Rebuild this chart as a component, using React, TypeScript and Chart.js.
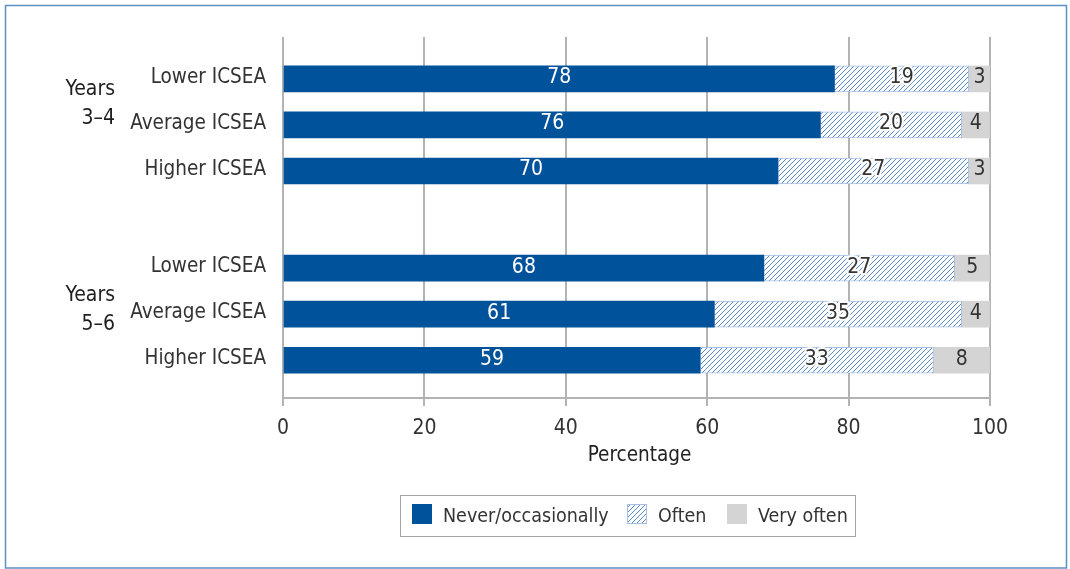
import React, { useEffect, useRef } from 'react';
import { Chart, registerables } from 'chart.js';

Chart.register(...registerables);

// ---------- data ----------
const groupLabels = [
  ['Years', '3–4'],
  ['Years', '5–6'],
];
const rowLabels = [
  'Lower ICSEA',
  'Average ICSEA',
  'Higher ICSEA',
  'Lower ICSEA',
  'Average ICSEA',
  'Higher ICSEA',
];
const seriesNames = ['Never/occasionally', 'Often', 'Very often'];
const neverOccasionally = [78, 76, 70, 68, 61, 59];
const often = [19, 20, 27, 27, 35, 33];
const veryOften = [3, 4, 3, 5, 4, 8];
const xTicks = [0, 20, 40, 60, 80, 100];
const xTitle = 'Percentage';

// ---------- style / layout ----------
const FONT = "'DejaVu Sans Condensed', 'DejaVu Sans', sans-serif";
const BLUE = '#00529b';
const GREY = '#d4d4d4';
const HATCH_LINE = '#5a89cc';
const HATCH_BORDER = '#a5c0e4';
const GRID = '#b3b3b3';
const TEXT = '#333333';
const FRAME = '#5a8fc8';
const W = 1070;
const H = 569;
const ROWS_PER_GROUP = 3;
const GROUP_STRIDE = 4.11;
const rowPos = (i: number) => (i % ROWS_PER_GROUP) + Math.floor(i / ROWS_PER_GROUP) * GROUP_STRIDE;
const GROUP_LABEL_POS = [0.48, 4.955];
const LEGEND_SQUARES_X = [412, 627, 727];

function makeHatch(ctx: CanvasRenderingContext2D): CanvasPattern {
  const s = 5;
  const c = document.createElement('canvas');
  c.width = s;
  c.height = s;
  const g = c.getContext('2d')!;
  g.fillStyle = '#ffffff';
  g.fillRect(0, 0, s, s);
  g.strokeStyle = HATCH_LINE;
  g.lineWidth = 1;
  g.beginPath();
  g.moveTo(0, s);
  g.lineTo(s, 0);
  g.moveTo(-1, 1);
  g.lineTo(1, -1);
  g.moveTo(s - 1, s + 1);
  g.lineTo(s + 1, s - 1);
  g.stroke();
  return ctx.createPattern(c, 'repeat')!;
}

export default function App() {
  const ref = useRef<HTMLCanvasElement>(null);

  useEffect(() => {
    document.body.style.margin = '0';
    const canvas = ref.current!;
    const ctx0 = canvas.getContext('2d')!;
    const hatch = makeHatch(ctx0);
    const seriesValues = [neverOccasionally, often, veryOften];
    const seriesFills: any[] = [BLUE, hatch, GREY];

    const framePlugin = {
      id: 'frame',
      beforeDraw(chart: any) {
        const c = chart.ctx;
        c.save();
        c.fillStyle = '#ffffff';
        c.fillRect(0, 0, W, H);
        c.strokeStyle = FRAME;
        c.lineWidth = 1.5;
        c.strokeRect(5.5, 5.5, W - 9, H - 6.5);
        c.restore();
      },
    };

    const valuePlugin = {
      id: 'values',
      afterDatasetsDraw(chart: any) {
        const c = chart.ctx;
        c.save();
        c.font = `21px ${FONT}`;
        c.textAlign = 'center';
        c.textBaseline = 'middle';
        chart.data.datasets.forEach((_: any, di: number) => {
          const meta = chart.getDatasetMeta(di);
          meta.data.forEach((el: any, i: number) => {
            const p = el.getProps(['x', 'base', 'y'], true);
            const cx = (p.x + p.base) / 2;
            const cy = p.y - 1;
            const t = String(seriesValues[di][i]);
            if (di === 0) {
              c.fillStyle = '#ffffff';
            } else {
              if (di === 1) {
                c.strokeStyle = '#ffffff';
                c.lineWidth = 4;
                c.lineJoin = 'round';
                c.strokeText(t, cx, cy);
              }
              c.fillStyle = TEXT;
            }
            c.fillText(t, cx, cy);
          });
        });
        c.restore();
      },
    };

    const extrasPlugin = {
      id: 'extras',
      afterDraw(chart: any) {
        const c = chart.ctx;
        const ys = chart.scales.y;
        const area = chart.chartArea;
        c.save();
        // group labels
        c.font = `21px ${FONT}`;
        c.fillStyle = '#1e1e1e';
        c.textAlign = 'right';
        c.textBaseline = 'alphabetic';
        groupLabels.forEach((lines, g) => {
          const a = ys.getPixelForValue(GROUP_LABEL_POS[g]);
          c.fillText(lines[0], 115, a - 6);
          c.fillText(lines[1], 115, a + 23);
        });
        // x title
        c.font = `20.5px ${FONT}`;
        c.textAlign = 'center';
        c.fillStyle = '#222222';
        c.fillText(xTitle, (area.left + area.right) / 2 + 3, 461);
        // legend
        c.font = `19.5px ${FONT}`;
        c.textAlign = 'left';
        const sq = 20;
        const sqY = 504;
        seriesNames.forEach((name, k) => {
          const x = LEGEND_SQUARES_X[k];
          c.fillStyle = seriesFills[k];
          c.fillRect(x, sqY, sq, sq);
          if (k === 1) {
            c.strokeStyle = HATCH_BORDER;
            c.lineWidth = 1;
            c.strokeRect(x + 0.5, sqY + 0.5, sq - 1, sq - 1);
          }
          c.fillStyle = TEXT;
          c.fillText(name, x + sq + 11, 522);
        });
        c.strokeStyle = '#a6a6a6';
        c.lineWidth = 1;
        c.strokeRect(400.5, 495.5, 455, 41);
        c.restore();
      },
    };

    const chart = new Chart(canvas, {
      type: 'bar',
      data: {
        datasets: seriesNames.map((name, k) => ({
          label: name,
          data: seriesValues[k].map((v, i) => ({ x: v, y: rowPos(i) })),
          backgroundColor: seriesFills[k],
          borderColor: k === 1 ? HATCH_BORDER : 'rgba(0,0,0,0)',
          borderWidth: k === 1 ? 1 : 0,
          borderSkipped: false,
          barThickness: 26,
        })),
      },
      options: {
        indexAxis: 'y',
        animation: false,
        responsive: false,
        maintainAspectRatio: false,
        layout: { padding: { top: 37, right: 80, left: 0, bottom: 0 } },
        plugins: {
          legend: { display: false },
          tooltip: { enabled: false },
        },
        scales: {
          x: {
            type: 'linear',
            stacked: true,
            min: 0,
            max: 100,
            position: 'bottom',
            offset: false,
            afterBuildTicks: (s: any) => {
              s.ticks = xTicks.map((v) => ({ value: v }));
            },
            afterFit: (s: any) => {
              s.height = H - 398;
            },
            grid: { color: GRID, lineWidth: 2, tickLength: 8, drawTicks: true, offset: false },
            border: { display: true, color: GRID, width: 2 },
            ticks: {
              font: { family: FONT, size: 21 },
              color: TEXT,
              padding: 10,
              maxRotation: 0,
              autoSkip: false,
            },
          },
          y: {
            type: 'linear',
            stacked: true,
            reverse: true,
            offset: false,
            min: -0.91,
            max: 6.93,
            position: 'left',
            afterBuildTicks: (s: any) => {
              s.ticks = rowLabels.map((_, i) => ({ value: rowPos(i) }));
            },
            afterFit: (s: any) => {
              s.width = 283;
            },
            grid: { display: false, offset: false },
            border: { display: false },
            ticks: {
              callback: (_v: any, i: number) => rowLabels[i],
              font: { family: FONT, size: 20.5 },
              color: TEXT,
              padding: 9,
              labelOffset: -1.5,
              autoSkip: false,
            },
          },
        },
      } as any,
      plugins: [framePlugin, valuePlugin, extrasPlugin],
    });
    return () => chart.destroy();
  }, []);

  return (
    <div style={{ width: W, height: H }}>
      <canvas ref={ref} width={W} height={H} style={{ display: 'block', width: W, height: H }} />
    </div>
  );
}
